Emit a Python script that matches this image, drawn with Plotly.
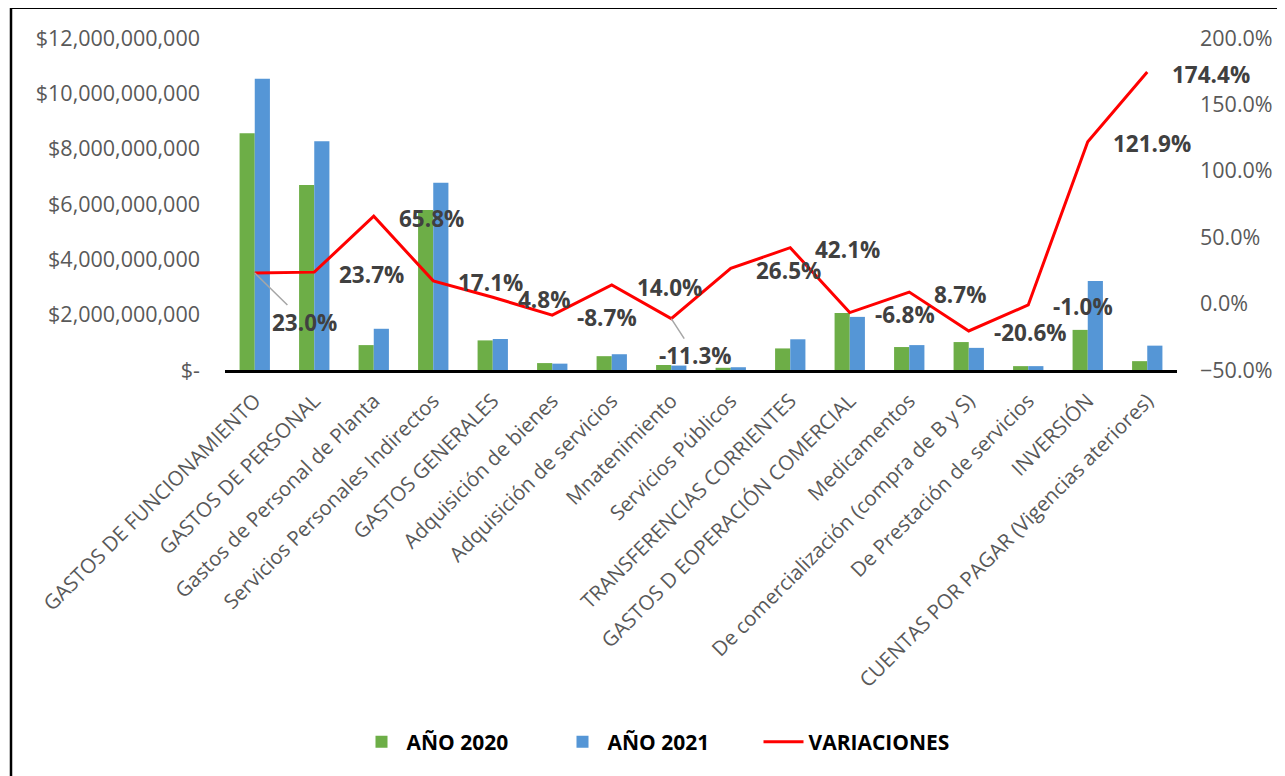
import plotly.graph_objects as go

categorias = [
    "GASTOS DE FUNCIONAMIENTO", "GASTOS DE PERSONAL", "Gastos de Personal de Planta",
    "Servicios Personales Indirectos", "GASTOS GENERALES", "Adquisición de bienes",
    "Adquisición de servicios", "Mnatenimiento", "Servicios Públicos",
    "TRANSFERENCIAS CORRIENTES", "GASTOS D EOPERACIÓN COMERCIAL", "Medicamentos",
    "De comercialización (compra de B y S)", "De Prestación de servicios",
    "INVERSIÓN", "CUENTAS POR PAGAR (Vigencias ateriores)",
]
anio_2020 = [8.56e9, 6.69e9, 0.90e9, 5.78e9, 1.07e9, 0.25e9, 0.50e9, 0.18e9,
             0.08e9, 0.78e9, 2.06e9, 0.83e9, 1.01e9, 0.14e9, 1.45e9, 0.32e9]
anio_2021 = [10.53e9, 8.27e9, 1.49e9, 6.77e9, 1.12e9, 0.23e9, 0.57e9, 0.16e9,
             0.10e9, 1.11e9, 1.92e9, 0.90e9, 0.80e9, 0.14e9, 3.22e9, 0.88e9]
variaciones = [0.230, 0.237, 0.658, 0.171, 0.048, -0.087, 0.140, -0.113,
               0.265, 0.421, -0.068, 0.087, -0.206, -0.010, 1.219, 1.744]

y_ticks = [0, 2e9, 4e9, 6e9, 8e9, 10e9, 12e9]
y_ticktext = ["$-", "$2,000,000,000", "$4,000,000,000", "$6,000,000,000",
              "$8,000,000,000", "$10,000,000,000", "$12,000,000,000"]
y2_ticks = [-0.5, 0.0, 0.5, 1.0, 1.5, 2.0]

# la pagina tiene 8px de margen en el body
OFF = 8
W, H = 1285 - OFF, 776 - OFF
L, R, T = 225 - OFF, W - (1177 - OFF), 38 - OFF
B = H - (370 - OFF)
pw, ph = W - L - R, H - T - B

def px_x(p):
    return (p - OFF - L) / pw

def px_y(p):
    return (H - B - (p - OFF)) / ph

gris = "#595959"
fuente = "Open Sans"

fig = go.Figure()
fig.add_trace(go.Bar(x=categorias, y=anio_2020, name="AÑO 2020",
                     marker=dict(color="#6DAE47", line=dict(width=0))))
fig.add_trace(go.Bar(x=categorias, y=anio_2021, name="AÑO 2021",
                     marker=dict(color="#5596D6", line=dict(width=0))))
fig.add_trace(go.Scatter(x=categorias, y=variaciones, name="VARIACIONES", yaxis="y2",
                         mode="lines", line=dict(color="#FF0000", width=3)))

# etiquetas de variacion
anots = []
for i, v in enumerate(variaciones):
    a = dict(x=categorias[i], y=v, xref="x", yref="y2", text=f"{v:.1%}",
             font=dict(family=fuente, size=22.5, color="#404040", weight="bold"))
    if i == 0:
        a.update(showarrow=True, ax=50, ay=49, arrowhead=0, arrowwidth=1.5,
                 arrowcolor="#A6A6A6")
    elif i == 7:
        a.update(showarrow=True, ax=24, ay=37, arrowhead=0, arrowwidth=1.5,
                 arrowcolor="#A6A6A6")
    else:
        a.update(showarrow=False, xanchor="left", yanchor="middle", xshift=23, yshift=-2)
    anots.append(a)

fig.update_layout(
    width=W, height=H,
    margin=dict(l=L, r=R, t=T, b=B),
    paper_bgcolor="white", plot_bgcolor="white",
    barmode="group", bargap=0.49, bargroupgap=0,
    font=dict(family=fuente, color=gris),
    xaxis=dict(type="category", range=[-0.5, len(categorias) - 0.5], autorange=False,
               tickangle=-45, showgrid=False, showline=True,
               linecolor="black", linewidth=2.5, ticks="", ticklabelstandoff=8,
               tickfont=dict(size=20.5, color=gris)),
    yaxis=dict(range=[0, 12e9], tickvals=y_ticks, ticktext=y_ticktext, showgrid=False,
               zeroline=False, showline=False, ticks="", ticklabelstandoff=24,
               tickfont=dict(size=21.5, color=gris)),
    yaxis2=dict(range=[-0.5, 2.0], tickvals=y2_ticks, tickformat=".1%", overlaying="y",
                side="right", showgrid=False, zeroline=False, showline=False, ticks="",
                ticklabelstandoff=22, tickfont=dict(size=21.5, color=gris)),
    legend=dict(orientation="h", x=px_x(658), xanchor="center", y=px_y(742),
                yanchor="middle", font=dict(size=21, color="black", weight="bold"),
                itemwidth=40, entrywidth=146, traceorder="normal"),
    annotations=anots,
    shapes=[
        dict(type="line", xref="paper", yref="paper", x0=px_x(11), x1=px_x(1300),
             y0=px_y(8), y1=px_y(8), line=dict(color="black", width=2)),
        dict(type="line", xref="paper", yref="paper", x0=px_x(11), x1=px_x(11),
             y0=px_y(8), y1=px_y(790), line=dict(color="black", width=2.5)),
    ],
    showlegend=True,
)

fig.write_html("out.html")
